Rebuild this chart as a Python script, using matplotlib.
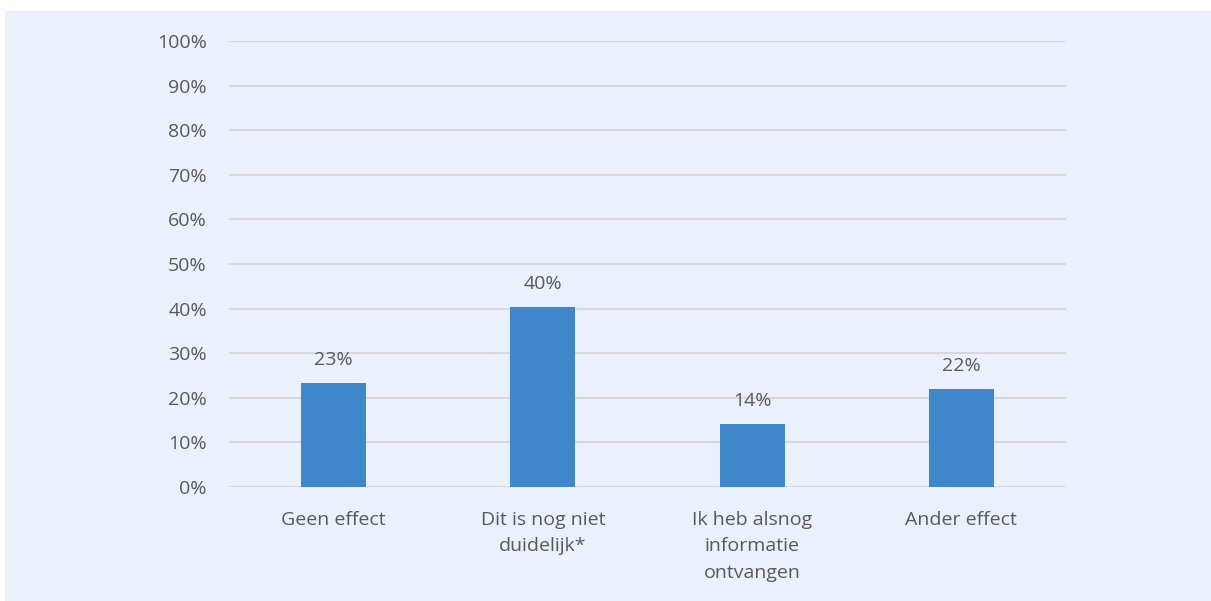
import matplotlib.pyplot as plt
import numpy as np
from matplotlib.patches import Rectangle

categories = ["Geen effect", "Dit is nog niet\nduidelijk*", "Ik heb alsnog\ninformatie\nontvangen", "Ander effect"]
values = [23.3, 40.4, 14.1, 22.0]
labels = ["23%", "40%", "14%", "22%"]
yticks = [0, 10, 20, 30, 40, 50, 60, 70, 80, 90, 100]

plt.rcParams['font.family'] = ['Open Sans', 'DejaVu Sans']
text_color = '#595959'

fig = plt.figure(figsize=(12.11, 6.01), dpi=100)
fig.patch.set_facecolor('white')
fig.patches.append(Rectangle((5 / 1211, 0), 1, 1 - 11 / 601, transform=fig.transFigure,
                             facecolor='#EAF1FC', edgecolor='none', zorder=-10))

ax = fig.add_axes([229 / 1211, 1 - 487 / 601, 837 / 1211, 446 / 601])
ax.set_facecolor('none')

x = np.arange(len(categories))
ax.bar(x, values, width=0.31, color='#3E87CB', zorder=3)
for xi, v, lab in zip(x, values, labels):
    ax.text(xi, v + 3.2, lab, ha='center', va='bottom', fontsize=14, color=text_color)

ax.set_xlim(-0.5, len(categories) - 0.5)
ax.set_ylim(0, 100)
ax.set_yticks(yticks)
ax.set_yticklabels([f"{t}%" for t in yticks], fontsize=14, color=text_color)
ax.set_xticks(x)
ax.set_xticklabels(categories, fontsize=14, color=text_color, linespacing=1.62, va='top')
ax.tick_params(axis='both', length=0)
ax.tick_params(axis='y', pad=16)
ax.tick_params(axis='x', pad=17)
ax.grid(axis='y', color='#D9D9D9', linewidth=1.5, zorder=0)
for s in ax.spines.values():
    s.set_visible(False)

fig.savefig('out.png', dpi=100, facecolor=fig.get_facecolor())
